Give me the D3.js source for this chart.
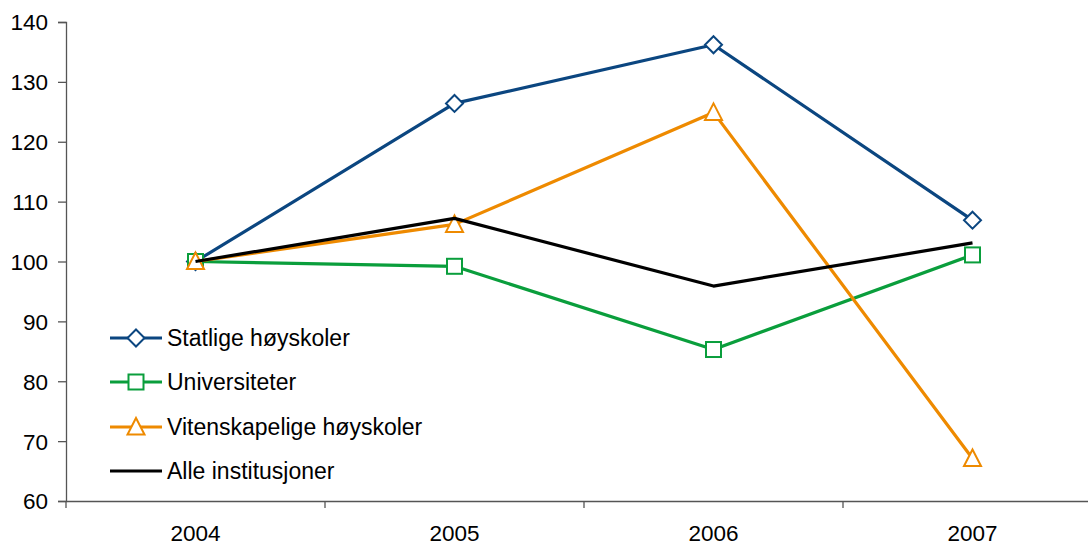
<!DOCTYPE html>
<html>
<head>
<meta charset="utf-8">
<script src="https://cdn.jsdelivr.net/npm/d3@7/dist/d3.min.js"></script>
<style>
  html, body { margin: 0; padding: 0; background: #fff; }
  svg text { font-family: "Liberation Sans", Arial, sans-serif; fill: #000; }
</style>
</head>
<body>
<svg id="chart" width="1088" height="545"></svg>
<script>
// Index values (2004 = 100)
const years = ["2004", "2005", "2006", "2007"];
const statlige = [100, 126.4, 136.2, 106.9];
const universiteter = [100, 99.2, 85.3, 101.1];
const vitenskapelige = [100, 106.2, 124.9, 67.1];
const alle = [100, 107.2, 95.9, 103.1];
const yTicks = [60, 70, 80, 90, 100, 110, 120, 130, 140];

const seriesNames = ["Statlige høyskoler", "Universiteter", "Vitenskapelige høyskoler", "Alle institusjoner"];
const seriesValues = [statlige, universiteter, vitenskapelige, alle];
const seriesColors = ["#0b4680", "#0a9e3c", "#ee8a00", "#000000"];
const seriesMarkers = ["diamond", "square", "triangle", "none"];

const svg = d3.select("#chart");
const plotLeft = 66, plotTop = 22, plotBottom = 501, bandW = 259;

const x = d3.scaleBand().domain(years).range([plotLeft, plotLeft + bandW * years.length]).padding(0);
const y = d3.scaleLinear().domain([60, 140]).range([plotBottom, plotTop]);

// Axes
const yAxis = d3.axisLeft(y).tickValues(yTicks).tickSize(8).tickPadding(10).tickFormat(d3.format("d"));
const gy = svg.append("g").attr("transform", `translate(${plotLeft},0)`).call(yAxis);
gy.select(".domain").attr("stroke", "#555").attr("stroke-width", 1.3);
gy.selectAll(".tick line").attr("stroke", "#555").attr("stroke-width", 1.3);
gy.selectAll(".tick text").style("font-size", "22.5px").attr("dy", "0.35em");

const xAxis = d3.axisBottom(x).tickSize(0).tickPadding(24);
const gx = svg.append("g").attr("transform", `translate(0,${plotBottom})`).call(xAxis);
gx.select(".domain").attr("stroke", "#555").attr("stroke-width", 1.3);
gx.selectAll(".tick text").style("font-size", "22.5px");
// category separators
const sepX = years.map(d => x(d)).concat([x(years[years.length - 1]) + x.bandwidth()]);
gx.selectAll("line.sep").data(sepX).enter().append("line")
  .attr("class", "sep")
  .attr("x1", d => d).attr("x2", d => d)
  .attr("y1", 0).attr("y2", 7)
  .attr("stroke", "#555").attr("stroke-width", 1.3);

const cx = d => x(d) + x.bandwidth() / 2;

function drawMarker(g, type, color) {
  if (type === "diamond") {
    g.append("path").attr("d", "M0,-8.5L8.5,0L0,8.5L-8.5,0Z")
      .attr("fill", "#fff").attr("stroke", color).attr("stroke-width", 2);
  } else if (type === "square") {
    g.append("rect").attr("x", -7.5).attr("y", -7.5).attr("width", 15).attr("height", 15)
      .attr("fill", "#fff").attr("stroke", color).attr("stroke-width", 2);
  } else if (type === "triangle") {
    g.append("path").attr("d", "M0,-9L8.5,7.5L-8.5,7.5Z")
      .attr("fill", "#fff").attr("stroke", color).attr("stroke-width", 2);
  }
}

const line = d3.line().x((d, i) => cx(years[i])).y(d => y(d));

// Lines and markers
seriesValues.forEach((vals, si) => {
  const g = svg.append("g");
  g.append("path").datum(vals).attr("d", line)
    .attr("fill", "none").attr("stroke", seriesColors[si]).attr("stroke-width", 3.2)
    .attr("stroke-linejoin", "round");
  vals.forEach((v, i) => {
    const m = g.append("g").attr("transform", `translate(${cx(years[i])},${y(v)})`);
    drawMarker(m, seriesMarkers[si], seriesColors[si]);
  });
});

// Legend
const legendY = [338, 382, 427, 471];
seriesNames.forEach((name, si) => {
  const g = svg.append("g").attr("transform", `translate(110,${legendY[si]})`);
  g.append("line").attr("x1", 0).attr("x2", 52).attr("y1", 0).attr("y2", 0)
    .attr("stroke", seriesColors[si]).attr("stroke-width", 3.2);
  const m = g.append("g").attr("transform", "translate(26,0)");
  drawMarker(m, seriesMarkers[si], seriesColors[si]);
  g.append("text").attr("x", 57).attr("y", 0).attr("dy", "0.35em")
    .style("font-size", "23px").text(name);
});
</script>
</body>
</html>
